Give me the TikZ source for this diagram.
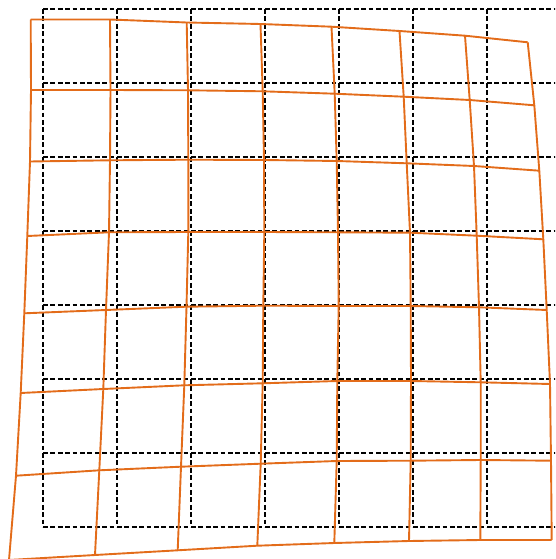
\documentclass[tikz,border=0pt]{standalone}
\definecolor{warp}{RGB}{227,108,26}
\begin{document}
\begin{tikzpicture}[x=1pt,y=-1pt,
  gridline/.style={black, line width=1.7pt, dash pattern=on 4.8pt off 2.6pt},
  warpline/.style={warp, line width=1.9pt, line join=round}]
\useasboundingbox (0,0) rectangle (555,559);
\begin{scope}
\clip (0,0) rectangle (555,559);
\foreach \x in {43,117,...,561} \draw[gridline] (\x,9) -- (\x,527);
\foreach \y in {9,83,...,527} \draw[gridline] (43,\y) -- (561,\y);
\foreach \n/\x/\y in {
 00/30.7/19.5, 01/110/19.5, 02/186.7/22.5, 03/260.5/24, 04/331.5/26.7, 05/399.5/31, 06/465/35.7, 07/527.7/42.3,
 10/31/90, 11/110.5/90, 12/188/90.3, 13/262.7/91.3, 14/334.7/93.7, 15/403.7/96.7, 16/469.7/100, 17/534.3/105.3,
 20/30/161.5, 21/110/160.3, 22/188.3/159.7, 23/264/160, 24/336.7/161, 25/406.7/163.3, 26/474/166, 27/539.3/170.7,
 30/27.3/236, 31/109/232.3, 32/188.3/232, 33/264.3/232, 34/338/232.3, 35/410/232.7, 36/476.7/235.7, 37/543.3/239.3,
 40/24.3/313.3, 41/106/310, 42/186.5/306.7, 43/263.3/305.7, 44/338.7/306, 45/410.7/306, 46/479/307.3, 47/546.7/310,
 50/20.7/393, 51/103.3/389, 52/184.3/385.3, 53/262.7/383.3, 54/337.3/381, 55/411/381, 56/480.7/382.3, 57/550/384,
 60/16/475.7, 61/99.3/470.3, 62/181/466.7, 63/260.7/463.7, 64/336.7/461, 65/410.7/460.7, 66/480.7/460, 67/551/460.7,
 70/9/560, 71/95/555, 72/177.7/550.3, 73/257.3/545.7, 74/334.3/543, 75/409/541, 76/480.3/540, 77/551.7/540}
  \coordinate (p\n) at (\x,\y);
\foreach \r in {0,...,7}
  \draw[warpline] (p\r0) -- (p\r1) -- (p\r2) -- (p\r3) -- (p\r4) -- (p\r5) -- (p\r6) -- (p\r7);
\foreach \c in {0,...,7}
  \draw[warpline] (p0\c) -- (p1\c) -- (p2\c) -- (p3\c) -- (p4\c) -- (p5\c) -- (p6\c) -- (p7\c);
\end{scope}
\end{tikzpicture}
\end{document}
